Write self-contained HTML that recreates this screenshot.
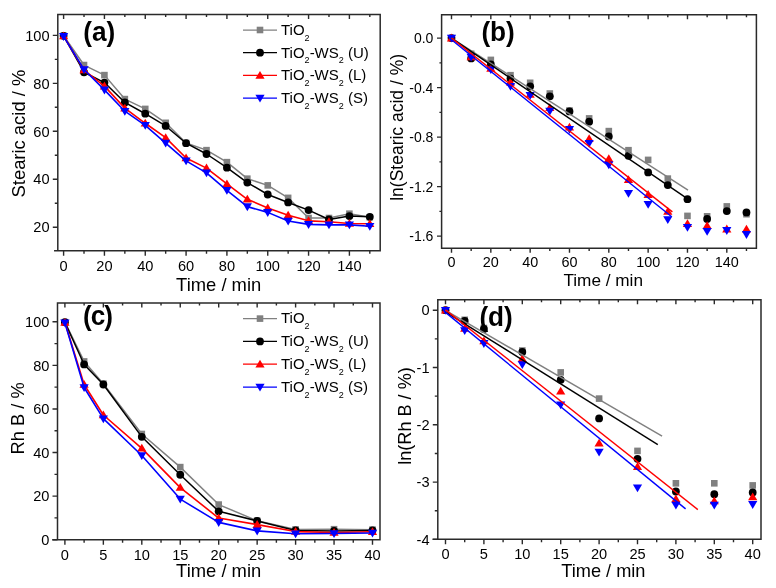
<!DOCTYPE html>
<html><head><meta charset="utf-8"><title>Figure</title>
<style>
html,body{margin:0;padding:0;background:#fff;}
body{width:776px;height:588px;overflow:hidden;font-family:"Liberation Sans", sans-serif;}
svg{display:block;will-change:transform;}
</style></head><body>
<svg width="776" height="588" viewBox="0 0 776 588" font-family='"Liberation Sans", sans-serif' fill="#000">
<rect width="776" height="588" fill="#fff"/>
<path d="M63.6,35.8L84.01,65.05L104.43,75.12L124.84,99.09L145.26,108.92L165.67,122.83L186.08,142.97L206.5,150.16L226.91,162.15L247.33,178.69L267.74,185.4L288.15,197.87L308.57,218.01L328.98,218.01L349.4,213.69L369.81,217.29" stroke="#808080" stroke-width="1.5" fill="none" stroke-linejoin="round"/>
<rect x="60.3" y="32.5" width="6.6" height="6.6" fill="#808080"/>
<rect x="80.71" y="61.75" width="6.6" height="6.6" fill="#808080"/>
<rect x="101.13" y="71.82" width="6.6" height="6.6" fill="#808080"/>
<rect x="121.54" y="95.79" width="6.6" height="6.6" fill="#808080"/>
<rect x="141.96" y="105.62" width="6.6" height="6.6" fill="#808080"/>
<rect x="162.37" y="119.53" width="6.6" height="6.6" fill="#808080"/>
<rect x="182.78" y="139.67" width="6.6" height="6.6" fill="#808080"/>
<rect x="203.2" y="146.86" width="6.6" height="6.6" fill="#808080"/>
<rect x="223.61" y="158.85" width="6.6" height="6.6" fill="#808080"/>
<rect x="244.03" y="175.39" width="6.6" height="6.6" fill="#808080"/>
<rect x="264.44" y="182.1" width="6.6" height="6.6" fill="#808080"/>
<rect x="284.85" y="194.57" width="6.6" height="6.6" fill="#808080"/>
<rect x="305.27" y="214.71" width="6.6" height="6.6" fill="#808080"/>
<rect x="325.68" y="214.71" width="6.6" height="6.6" fill="#808080"/>
<rect x="346.1" y="210.39" width="6.6" height="6.6" fill="#808080"/>
<rect x="366.51" y="213.99" width="6.6" height="6.6" fill="#808080"/>
<path d="M63.6,35.8L84.01,72.24L104.43,82.55L124.84,102.45L145.26,113.72L165.67,125.95L186.08,143.21L206.5,154L226.91,167.66L247.33,182.53L267.74,194.51L288.15,202.43L308.57,210.1L328.98,219.45L349.4,216.09L369.81,216.81" stroke="#000000" stroke-width="1.5" fill="none" stroke-linejoin="round"/>
<circle cx="63.6" cy="35.8" r="3.9" fill="#000000"/>
<circle cx="84.01" cy="72.24" r="3.9" fill="#000000"/>
<circle cx="104.43" cy="82.55" r="3.9" fill="#000000"/>
<circle cx="124.84" cy="102.45" r="3.9" fill="#000000"/>
<circle cx="145.26" cy="113.72" r="3.9" fill="#000000"/>
<circle cx="165.67" cy="125.95" r="3.9" fill="#000000"/>
<circle cx="186.08" cy="143.21" r="3.9" fill="#000000"/>
<circle cx="206.5" cy="154" r="3.9" fill="#000000"/>
<circle cx="226.91" cy="167.66" r="3.9" fill="#000000"/>
<circle cx="247.33" cy="182.53" r="3.9" fill="#000000"/>
<circle cx="267.74" cy="194.51" r="3.9" fill="#000000"/>
<circle cx="288.15" cy="202.43" r="3.9" fill="#000000"/>
<circle cx="308.57" cy="210.1" r="3.9" fill="#000000"/>
<circle cx="328.98" cy="219.45" r="3.9" fill="#000000"/>
<circle cx="349.4" cy="216.09" r="3.9" fill="#000000"/>
<circle cx="369.81" cy="216.81" r="3.9" fill="#000000"/>
<path d="M63.6,36L84.01,70.04L104.43,86.11L124.84,108.16L145.26,123.27L165.67,137.65L186.08,158.03L206.5,168.1L226.91,183.93L247.33,199.27L267.74,207.9L288.15,215.33L308.57,220.85L328.98,221.81L349.4,223.48L369.81,223.72" stroke="#ff0000" stroke-width="1.6" fill="none" stroke-linejoin="round"/>
<path d="M63.6,31.48L68.2,39.28L59,39.28Z" fill="#ff0000"/>
<path d="M84.01,65.52L88.61,73.32L79.41,73.32Z" fill="#ff0000"/>
<path d="M104.43,81.58L109.03,89.38L99.83,89.38Z" fill="#ff0000"/>
<path d="M124.84,103.64L129.44,111.44L120.24,111.44Z" fill="#ff0000"/>
<path d="M145.26,118.74L149.86,126.54L140.66,126.54Z" fill="#ff0000"/>
<path d="M165.67,133.13L170.27,140.93L161.07,140.93Z" fill="#ff0000"/>
<path d="M186.08,153.51L190.68,161.31L181.48,161.31Z" fill="#ff0000"/>
<path d="M206.5,163.58L211.1,171.38L201.9,171.38Z" fill="#ff0000"/>
<path d="M226.91,179.4L231.51,187.2L222.31,187.2Z" fill="#ff0000"/>
<path d="M247.33,194.75L251.93,202.55L242.73,202.55Z" fill="#ff0000"/>
<path d="M267.74,203.38L272.34,211.18L263.14,211.18Z" fill="#ff0000"/>
<path d="M288.15,210.81L292.75,218.61L283.55,218.61Z" fill="#ff0000"/>
<path d="M308.57,216.32L313.17,224.12L303.97,224.12Z" fill="#ff0000"/>
<path d="M328.98,217.28L333.58,225.08L324.38,225.08Z" fill="#ff0000"/>
<path d="M349.4,218.96L354,226.76L344.8,226.76Z" fill="#ff0000"/>
<path d="M369.81,219.2L374.41,227L365.21,227Z" fill="#ff0000"/>
<path d="M63.6,36.4L84.01,69.49L104.43,89.86L124.84,111.2L145.26,125.35L165.67,143.09L186.08,160.83L206.5,172.82L226.91,190.32L247.33,206.62L267.74,212.38L288.15,221.01L308.57,224.36L328.98,224.84L349.4,224.84L369.81,226.28" stroke="#0000ff" stroke-width="1.6" fill="none" stroke-linejoin="round"/>
<path d="M59,33.12L68.2,33.12L63.6,40.92Z" fill="#0000ff"/>
<path d="M79.41,66.21L88.61,66.21L84.01,74.01Z" fill="#0000ff"/>
<path d="M99.83,86.59L109.03,86.59L104.43,94.39Z" fill="#0000ff"/>
<path d="M120.24,107.93L129.44,107.93L124.84,115.73Z" fill="#0000ff"/>
<path d="M140.66,122.07L149.86,122.07L145.26,129.87Z" fill="#0000ff"/>
<path d="M161.07,139.81L170.27,139.81L165.67,147.61Z" fill="#0000ff"/>
<path d="M181.48,157.55L190.68,157.55L186.08,165.35Z" fill="#0000ff"/>
<path d="M201.9,169.54L211.1,169.54L206.5,177.34Z" fill="#0000ff"/>
<path d="M222.31,187.04L231.51,187.04L226.91,194.84Z" fill="#0000ff"/>
<path d="M242.73,203.35L251.93,203.35L247.33,211.15Z" fill="#0000ff"/>
<path d="M263.14,209.1L272.34,209.1L267.74,216.9Z" fill="#0000ff"/>
<path d="M283.55,217.73L292.75,217.73L288.15,225.53Z" fill="#0000ff"/>
<path d="M303.97,221.09L313.17,221.09L308.57,228.89Z" fill="#0000ff"/>
<path d="M324.38,221.57L333.58,221.57L328.98,229.37Z" fill="#0000ff"/>
<path d="M344.8,221.57L354,221.57L349.4,229.37Z" fill="#0000ff"/>
<path d="M365.21,223.01L374.41,223.01L369.81,230.81Z" fill="#0000ff"/>
<path d="M57.8,250.8V14.4H380.2V250.8H54.8" fill="none" stroke="#2a2a2a" stroke-width="1.5" stroke-linejoin="miter" stroke-linecap="square"/>
<path d="M63.6,250.8v5M63.6,14.4v4.5M104.43,250.8v5M104.43,14.4v4.5M145.26,250.8v5M145.26,14.4v4.5M186.08,250.8v5M186.08,14.4v4.5M226.91,250.8v5M226.91,14.4v4.5M267.74,250.8v5M267.74,14.4v4.5M308.57,250.8v5M308.57,14.4v4.5M349.4,250.8v5M349.4,14.4v4.5M84.01,250.8v3M84.01,14.4v2.5M124.84,250.8v3M124.84,14.4v2.5M165.67,250.8v3M165.67,14.4v2.5M206.5,250.8v3M206.5,14.4v2.5M247.33,250.8v3M247.33,14.4v2.5M288.15,250.8v3M288.15,14.4v2.5M328.98,250.8v3M328.98,14.4v2.5M369.81,250.8v3M369.81,14.4v2.5" stroke="#2a2a2a" stroke-width="1.4" fill="none"/>
<path d="M57.8,227.2h-5M57.8,179.25h-5M57.8,131.3h-5M57.8,83.35h-5M57.8,35.4h-5M57.8,203.22h-3M57.8,155.28h-3M57.8,107.32h-3M57.8,59.38h-3" stroke="#2a2a2a" stroke-width="1.4" fill="none"/>
<text x="63.6" y="270.7" font-size="14.6" text-anchor="middle" font-weight="normal" >0</text>
<text x="104.43" y="270.7" font-size="14.6" text-anchor="middle" font-weight="normal" >20</text>
<text x="145.26" y="270.7" font-size="14.6" text-anchor="middle" font-weight="normal" >40</text>
<text x="186.08" y="270.7" font-size="14.6" text-anchor="middle" font-weight="normal" >60</text>
<text x="226.91" y="270.7" font-size="14.6" text-anchor="middle" font-weight="normal" >80</text>
<text x="267.74" y="270.7" font-size="14.6" text-anchor="middle" font-weight="normal" >100</text>
<text x="308.57" y="270.7" font-size="14.6" text-anchor="middle" font-weight="normal" >120</text>
<text x="349.4" y="270.7" font-size="14.6" text-anchor="middle" font-weight="normal" >140</text>
<text x="49.6" y="232.4" font-size="14.6" text-anchor="end" font-weight="normal" >20</text>
<text x="49.6" y="184.45" font-size="14.6" text-anchor="end" font-weight="normal" >40</text>
<text x="49.6" y="136.5" font-size="14.6" text-anchor="end" font-weight="normal" >60</text>
<text x="49.6" y="88.55" font-size="14.6" text-anchor="end" font-weight="normal" >80</text>
<text x="49.6" y="40.6" font-size="14.6" text-anchor="end" font-weight="normal" >100</text>
<text x="218.7" y="290.6" font-size="18.4" text-anchor="middle" font-weight="normal" >Time / min</text>
<text transform="translate(24.6,133.6) rotate(-90)" font-size="18.4" text-anchor="middle">Stearic acid / %</text>
<text transform="translate(83.2,41) scale(0.97,1)" font-size="27" font-weight="bold" letter-spacing="0">(a)</text>
<path d="M243,30H277" stroke="#808080" stroke-width="1.25"/>
<rect x="256.7" y="26.7" width="6.6" height="6.6" fill="#808080"/>
<text x="281" y="34.8" font-size="15">TiO<tspan font-size="9" dy="5.7">2</tspan></text>
<path d="M243,52.7H277" stroke="#000000" stroke-width="1.25"/>
<circle cx="260" cy="52.7" r="3.9" fill="#000000"/>
<text x="281" y="57.5" font-size="15">TiO<tspan font-size="9" dy="5.7">2</tspan><tspan dy="-5.7">-WS</tspan><tspan font-size="9" dy="5.7">2</tspan><tspan dy="-5.7"> (U)</tspan></text>
<path d="M243,75.4H277" stroke="#ff0000" stroke-width="1.25"/>
<path d="M260,70.88L264.6,78.68L255.4,78.68Z" fill="#ff0000"/>
<text x="281" y="80.2" font-size="15">TiO<tspan font-size="9" dy="5.7">2</tspan><tspan dy="-5.7">-WS</tspan><tspan font-size="9" dy="5.7">2</tspan><tspan dy="-5.7"> (L)</tspan></text>
<path d="M243,98.1H277" stroke="#0000ff" stroke-width="1.25"/>
<path d="M255.4,94.82L264.6,94.82L260,102.62Z" fill="#0000ff"/>
<text x="281" y="102.9" font-size="15">TiO<tspan font-size="9" dy="5.7">2</tspan><tspan dy="-5.7">-WS</tspan><tspan font-size="9" dy="5.7">2</tspan><tspan dy="-5.7"> (S)</tspan></text>
<rect x="448.2" y="34.8" width="6.6" height="6.6" fill="#808080"/>
<rect x="467.86" y="50.5" width="6.6" height="6.6" fill="#808080"/>
<rect x="487.53" y="56.6" width="6.6" height="6.6" fill="#808080"/>
<rect x="507.19" y="71.9" width="6.6" height="6.6" fill="#808080"/>
<rect x="526.86" y="79.5" width="6.6" height="6.6" fill="#808080"/>
<rect x="546.52" y="90.2" width="6.6" height="6.6" fill="#808080"/>
<rect x="566.18" y="107.2" width="6.6" height="6.6" fill="#808080"/>
<rect x="585.85" y="115.1" width="6.6" height="6.6" fill="#808080"/>
<rect x="605.51" y="127.8" width="6.6" height="6.6" fill="#808080"/>
<rect x="625.18" y="146.9" width="6.6" height="6.6" fill="#808080"/>
<rect x="644.84" y="156.6" width="6.6" height="6.6" fill="#808080"/>
<rect x="664.5" y="175.3" width="6.6" height="6.6" fill="#808080"/>
<rect x="684.17" y="212.6" width="6.6" height="6.6" fill="#808080"/>
<rect x="703.83" y="213" width="6.6" height="6.6" fill="#808080"/>
<rect x="723.5" y="203.1" width="6.6" height="6.6" fill="#808080"/>
<rect x="743.16" y="210.9" width="6.6" height="6.6" fill="#808080"/>
<circle cx="451.5" cy="38.1" r="3.9" fill="#000000"/>
<circle cx="471.16" cy="58.4" r="3.9" fill="#000000"/>
<circle cx="490.83" cy="64.5" r="3.9" fill="#000000"/>
<circle cx="510.49" cy="78.6" r="3.9" fill="#000000"/>
<circle cx="530.16" cy="86.3" r="3.9" fill="#000000"/>
<circle cx="549.82" cy="96.3" r="3.9" fill="#000000"/>
<circle cx="569.48" cy="111.4" r="3.9" fill="#000000"/>
<circle cx="589.15" cy="121.7" r="3.9" fill="#000000"/>
<circle cx="608.81" cy="136.5" r="3.9" fill="#000000"/>
<circle cx="628.48" cy="155.8" r="3.9" fill="#000000"/>
<circle cx="648.14" cy="172.4" r="3.9" fill="#000000"/>
<circle cx="667.8" cy="185.1" r="3.9" fill="#000000"/>
<circle cx="687.47" cy="199.2" r="3.9" fill="#000000"/>
<circle cx="707.13" cy="219" r="3.9" fill="#000000"/>
<circle cx="726.8" cy="211.1" r="3.9" fill="#000000"/>
<circle cx="746.46" cy="212.4" r="3.9" fill="#000000"/>
<path d="M451.5,33.58L456.1,41.38L446.9,41.38Z" fill="#ff0000"/>
<path d="M471.16,52.48L475.76,60.28L466.56,60.28Z" fill="#ff0000"/>
<path d="M490.83,63.98L495.43,71.78L486.23,71.78Z" fill="#ff0000"/>
<path d="M510.49,77.58L515.09,85.38L505.89,85.38Z" fill="#ff0000"/>
<path d="M530.16,89.98L534.76,97.78L525.56,97.78Z" fill="#ff0000"/>
<path d="M549.82,103.18L554.42,110.98L545.22,110.98Z" fill="#ff0000"/>
<path d="M569.48,122.68L574.08,130.48L564.88,130.48Z" fill="#ff0000"/>
<path d="M589.15,134.18L593.75,141.98L584.55,141.98Z" fill="#ff0000"/>
<path d="M608.81,154.18L613.41,161.98L604.21,161.98Z" fill="#ff0000"/>
<path d="M628.48,175.18L633.08,182.98L623.88,182.98Z" fill="#ff0000"/>
<path d="M648.14,190.08L652.74,197.88L643.54,197.88Z" fill="#ff0000"/>
<path d="M667.8,206.98L672.4,214.78L663.2,214.78Z" fill="#ff0000"/>
<path d="M687.47,219.28L692.07,227.08L682.87,227.08Z" fill="#ff0000"/>
<path d="M707.13,221.18L711.73,228.98L702.53,228.98Z" fill="#ff0000"/>
<path d="M726.8,224.58L731.4,232.38L722.2,232.38Z" fill="#ff0000"/>
<path d="M746.46,224.68L751.06,232.48L741.86,232.48Z" fill="#ff0000"/>
<path d="M446.9,34.82L456.1,34.82L451.5,42.62Z" fill="#0000ff"/>
<path d="M466.56,53.72L475.76,53.72L471.16,61.52Z" fill="#0000ff"/>
<path d="M486.23,66.32L495.43,66.32L490.83,74.12Z" fill="#0000ff"/>
<path d="M505.89,82.92L515.09,82.92L510.49,90.72Z" fill="#0000ff"/>
<path d="M525.56,91.92L534.76,91.92L530.16,99.72Z" fill="#0000ff"/>
<path d="M545.22,107.82L554.42,107.82L549.82,115.62Z" fill="#0000ff"/>
<path d="M564.88,126.02L574.08,126.02L569.48,133.82Z" fill="#0000ff"/>
<path d="M584.55,140.02L593.75,140.02L589.15,147.82Z" fill="#0000ff"/>
<path d="M604.21,161.42L613.41,161.42L608.81,169.22Z" fill="#0000ff"/>
<path d="M623.88,190.02L633.08,190.02L628.48,197.82Z" fill="#0000ff"/>
<path d="M643.54,200.92L652.74,200.92L648.14,208.72Z" fill="#0000ff"/>
<path d="M663.2,216.22L672.4,216.22L667.8,224.02Z" fill="#0000ff"/>
<path d="M682.87,223.92L692.07,223.92L687.47,231.72Z" fill="#0000ff"/>
<path d="M702.53,228.02L711.73,228.02L707.13,235.82Z" fill="#0000ff"/>
<path d="M722.2,227.12L731.4,227.12L726.8,234.92Z" fill="#0000ff"/>
<path d="M741.86,231.12L751.06,231.12L746.46,238.92Z" fill="#0000ff"/>
<path d="M451.5,38.1L688,190.1" stroke="#808080" stroke-width="1.4" fill="none"/>
<path d="M451.5,38.1L687.3,198.7" stroke="#000000" stroke-width="1.4" fill="none"/>
<path d="M451.5,38.1L672.4,211.9" stroke="#ff0000" stroke-width="1.4" fill="none"/>
<path d="M451.5,39.8L671.7,216.7" stroke="#0000ff" stroke-width="1.4" fill="none"/>
<path d="M441.6,248.2V14.7H756.4V248.2H441.6" fill="none" stroke="#2a2a2a" stroke-width="1.5" stroke-linejoin="miter" stroke-linecap="square"/>
<path d="M451.5,248.2v4.6M451.5,14.7v4.5M490.83,248.2v4.6M490.83,14.7v4.5M530.16,248.2v4.6M530.16,14.7v4.5M569.48,248.2v4.6M569.48,14.7v4.5M608.81,248.2v4.6M608.81,14.7v4.5M648.14,248.2v4.6M648.14,14.7v4.5M687.47,248.2v4.6M687.47,14.7v4.5M726.8,248.2v4.6M726.8,14.7v4.5M471.16,248.2v2.7M471.16,14.7v2.5M510.49,248.2v2.7M510.49,14.7v2.5M549.82,248.2v2.7M549.82,14.7v2.5M589.15,248.2v2.7M589.15,14.7v2.5M628.48,248.2v2.7M628.48,14.7v2.5M667.8,248.2v2.7M667.8,14.7v2.5M707.13,248.2v2.7M707.13,14.7v2.5M746.46,248.2v2.7M746.46,14.7v2.5" stroke="#2a2a2a" stroke-width="1.4" fill="none"/>
<path d="M441.6,38.1h-4.6M441.6,87.6h-4.6M441.6,137.1h-4.6M441.6,186.6h-4.6M441.6,236.1h-4.6M441.6,62.85h-2.2M441.6,112.35h-2.2M441.6,161.85h-2.2M441.6,211.35h-2.2" stroke="#2a2a2a" stroke-width="1.4" fill="none"/>
<text x="451.5" y="267.4" font-size="14.4" text-anchor="middle" font-weight="normal" >0</text>
<text x="490.83" y="267.4" font-size="14.4" text-anchor="middle" font-weight="normal" >20</text>
<text x="530.16" y="267.4" font-size="14.4" text-anchor="middle" font-weight="normal" >40</text>
<text x="569.48" y="267.4" font-size="14.4" text-anchor="middle" font-weight="normal" >60</text>
<text x="608.81" y="267.4" font-size="14.4" text-anchor="middle" font-weight="normal" >80</text>
<text x="648.14" y="267.4" font-size="14.4" text-anchor="middle" font-weight="normal" >100</text>
<text x="687.47" y="267.4" font-size="14.4" text-anchor="middle" font-weight="normal" >120</text>
<text x="726.8" y="267.4" font-size="14.4" text-anchor="middle" font-weight="normal" >140</text>
<text x="433.4" y="43.1" font-size="14.0" text-anchor="end" font-weight="normal" >0.0</text>
<text x="433.4" y="92.6" font-size="14.0" text-anchor="end" font-weight="normal" >-0.4</text>
<text x="433.4" y="142.1" font-size="14.0" text-anchor="end" font-weight="normal" >-0.8</text>
<text x="433.4" y="191.6" font-size="14.0" text-anchor="end" font-weight="normal" >-1.2</text>
<text x="433.4" y="241.1" font-size="14.0" text-anchor="end" font-weight="normal" >-1.6</text>
<text x="603.2" y="286" font-size="17.2" text-anchor="middle" font-weight="normal" >Time / min</text>
<text transform="translate(403.0,127.4) rotate(-90)" font-size="17.5" text-anchor="middle">ln(Stearic acid / %)</text>
<text transform="translate(481.4,41) scale(0.97,1)" font-size="27" font-weight="bold" letter-spacing="0">(b)</text>
<path d="M64.9,322.2L84.12,361.42L103.35,383.65L141.8,433.98L180.25,467.1L218.7,504.58L257.15,520.71L295.6,529.42L334.05,529.21L372.5,529.64" stroke="#808080" stroke-width="1.5" fill="none" stroke-linejoin="round"/>
<rect x="61.6" y="318.9" width="6.6" height="6.6" fill="#808080"/>
<rect x="80.83" y="358.12" width="6.6" height="6.6" fill="#808080"/>
<rect x="100.05" y="380.35" width="6.6" height="6.6" fill="#808080"/>
<rect x="138.5" y="430.68" width="6.6" height="6.6" fill="#808080"/>
<rect x="176.95" y="463.8" width="6.6" height="6.6" fill="#808080"/>
<rect x="215.4" y="501.28" width="6.6" height="6.6" fill="#808080"/>
<rect x="253.85" y="517.41" width="6.6" height="6.6" fill="#808080"/>
<rect x="292.3" y="526.12" width="6.6" height="6.6" fill="#808080"/>
<rect x="330.75" y="525.91" width="6.6" height="6.6" fill="#808080"/>
<rect x="369.2" y="526.34" width="6.6" height="6.6" fill="#808080"/>
<path d="M64.9,322.2L84.12,364.47L103.35,384.52L141.8,436.82L180.25,474.73L218.7,511.34L257.15,520.92L295.6,530.51L334.05,530.95L372.5,530.51" stroke="#000000" stroke-width="1.5" fill="none" stroke-linejoin="round"/>
<circle cx="64.9" cy="322.2" r="3.9" fill="#000000"/>
<circle cx="84.12" cy="364.47" r="3.9" fill="#000000"/>
<circle cx="103.35" cy="384.52" r="3.9" fill="#000000"/>
<circle cx="141.8" cy="436.82" r="3.9" fill="#000000"/>
<circle cx="180.25" cy="474.73" r="3.9" fill="#000000"/>
<circle cx="218.7" cy="511.34" r="3.9" fill="#000000"/>
<circle cx="257.15" cy="520.92" r="3.9" fill="#000000"/>
<circle cx="295.6" cy="530.51" r="3.9" fill="#000000"/>
<circle cx="334.05" cy="530.95" r="3.9" fill="#000000"/>
<circle cx="372.5" cy="530.51" r="3.9" fill="#000000"/>
<path d="M64.9,322.4L84.12,384.5L103.35,415.01L141.8,448.35L180.25,487.57L218.7,518.07L257.15,524.61L295.6,531.58L334.05,532.46L372.5,531.8" stroke="#ff0000" stroke-width="1.6" fill="none" stroke-linejoin="round"/>
<path d="M64.9,317.88L69.5,325.68L60.3,325.68Z" fill="#ff0000"/>
<path d="M84.12,379.98L88.72,387.78L79.53,387.78Z" fill="#ff0000"/>
<path d="M103.35,410.48L107.95,418.28L98.75,418.28Z" fill="#ff0000"/>
<path d="M141.8,443.82L146.4,451.62L137.2,451.62Z" fill="#ff0000"/>
<path d="M180.25,483.04L184.85,490.84L175.65,490.84Z" fill="#ff0000"/>
<path d="M218.7,513.55L223.3,521.35L214.1,521.35Z" fill="#ff0000"/>
<path d="M257.15,520.09L261.75,527.89L252.55,527.89Z" fill="#ff0000"/>
<path d="M295.6,527.06L300.2,534.86L291,534.86Z" fill="#ff0000"/>
<path d="M334.05,527.93L338.65,535.73L329.45,535.73Z" fill="#ff0000"/>
<path d="M372.5,527.28L377.1,535.08L367.9,535.08Z" fill="#ff0000"/>
<path d="M64.9,322.8L84.12,387.52L103.35,418.68L141.8,455.5L180.25,499.08L218.7,522.4L257.15,530.89L295.6,533.73L334.05,533.51L372.5,533.07" stroke="#0000ff" stroke-width="1.6" fill="none" stroke-linejoin="round"/>
<path d="M60.3,319.52L69.5,319.52L64.9,327.32Z" fill="#0000ff"/>
<path d="M79.53,384.24L88.72,384.24L84.12,392.04Z" fill="#0000ff"/>
<path d="M98.75,415.4L107.95,415.4L103.35,423.2Z" fill="#0000ff"/>
<path d="M137.2,452.23L146.4,452.23L141.8,460.03Z" fill="#0000ff"/>
<path d="M175.65,495.81L184.85,495.81L180.25,503.61Z" fill="#0000ff"/>
<path d="M214.1,519.12L223.3,519.12L218.7,526.92Z" fill="#0000ff"/>
<path d="M252.55,527.62L261.75,527.62L257.15,535.42Z" fill="#0000ff"/>
<path d="M291,530.45L300.2,530.45L295.6,538.25Z" fill="#0000ff"/>
<path d="M329.45,530.23L338.65,530.23L334.05,538.03Z" fill="#0000ff"/>
<path d="M367.9,529.8L377.1,529.8L372.5,537.6Z" fill="#0000ff"/>
<path d="M57.5,539.7V303.1H380V539.7H53" fill="none" stroke="#2a2a2a" stroke-width="1.5" stroke-linejoin="miter" stroke-linecap="square"/>
<path d="M64.9,539.7v5M64.9,303.1v4.5M103.35,539.7v5M103.35,303.1v4.5M141.8,539.7v5M141.8,303.1v4.5M180.25,539.7v5M180.25,303.1v4.5M218.7,539.7v5M218.7,303.1v4.5M257.15,539.7v5M257.15,303.1v4.5M295.6,539.7v5M295.6,303.1v4.5M334.05,539.7v5M334.05,303.1v4.5M372.5,539.7v5M372.5,303.1v4.5M84.12,539.7v3M84.12,303.1v2.5M122.58,539.7v3M122.58,303.1v2.5M161.03,539.7v3M161.03,303.1v2.5M199.48,539.7v3M199.48,303.1v2.5M237.93,539.7v3M237.93,303.1v2.5M276.38,539.7v3M276.38,303.1v2.5M314.83,539.7v3M314.83,303.1v2.5M353.27,539.7v3M353.27,303.1v2.5" stroke="#2a2a2a" stroke-width="1.4" fill="none"/>
<path d="M57.5,539.7h-5M57.5,496.12h-5M57.5,452.54h-5M57.5,408.96h-5M57.5,365.38h-5M57.5,321.8h-5M57.5,517.91h-3M57.5,474.33h-3M57.5,430.75h-3M57.5,387.17h-3M57.5,343.59h-3" stroke="#2a2a2a" stroke-width="1.4" fill="none"/>
<text x="64.9" y="559.7" font-size="14.6" text-anchor="middle" font-weight="normal" >0</text>
<text x="103.35" y="559.7" font-size="14.6" text-anchor="middle" font-weight="normal" >5</text>
<text x="141.8" y="559.7" font-size="14.6" text-anchor="middle" font-weight="normal" >10</text>
<text x="180.25" y="559.7" font-size="14.6" text-anchor="middle" font-weight="normal" >15</text>
<text x="218.7" y="559.7" font-size="14.6" text-anchor="middle" font-weight="normal" >20</text>
<text x="257.15" y="559.7" font-size="14.6" text-anchor="middle" font-weight="normal" >25</text>
<text x="295.6" y="559.7" font-size="14.6" text-anchor="middle" font-weight="normal" >30</text>
<text x="334.05" y="559.7" font-size="14.6" text-anchor="middle" font-weight="normal" >35</text>
<text x="372.5" y="559.7" font-size="14.6" text-anchor="middle" font-weight="normal" >40</text>
<text x="49.4" y="544.9" font-size="14.6" text-anchor="end" font-weight="normal" >0</text>
<text x="49.4" y="501.32" font-size="14.6" text-anchor="end" font-weight="normal" >20</text>
<text x="49.4" y="457.74" font-size="14.6" text-anchor="end" font-weight="normal" >40</text>
<text x="49.4" y="414.16" font-size="14.6" text-anchor="end" font-weight="normal" >60</text>
<text x="49.4" y="370.58" font-size="14.6" text-anchor="end" font-weight="normal" >80</text>
<text x="49.4" y="327" font-size="14.6" text-anchor="end" font-weight="normal" >100</text>
<text x="218.7" y="576.5" font-size="18.4" text-anchor="middle" font-weight="normal" >Time / min</text>
<text transform="translate(24.0,418.4) rotate(-90)" font-size="18.3" text-anchor="middle">Rh B / %</text>
<text transform="translate(83,325.4) scale(0.97,1)" font-size="27" font-weight="bold" letter-spacing="-1.0">(c)</text>
<path d="M243,318.6H277" stroke="#808080" stroke-width="1.25"/>
<rect x="256.7" y="315.3" width="6.6" height="6.6" fill="#808080"/>
<text x="281" y="323.4" font-size="15">TiO<tspan font-size="9" dy="5.7">2</tspan></text>
<path d="M243,341.4H277" stroke="#000000" stroke-width="1.25"/>
<circle cx="260" cy="341.4" r="3.9" fill="#000000"/>
<text x="281" y="346.2" font-size="15">TiO<tspan font-size="9" dy="5.7">2</tspan><tspan dy="-5.7">-WS</tspan><tspan font-size="9" dy="5.7">2</tspan><tspan dy="-5.7"> (U)</tspan></text>
<path d="M243,364.2H277" stroke="#ff0000" stroke-width="1.25"/>
<path d="M260,359.68L264.6,367.48L255.4,367.48Z" fill="#ff0000"/>
<text x="281" y="369" font-size="15">TiO<tspan font-size="9" dy="5.7">2</tspan><tspan dy="-5.7">-WS</tspan><tspan font-size="9" dy="5.7">2</tspan><tspan dy="-5.7"> (L)</tspan></text>
<path d="M243,387H277" stroke="#0000ff" stroke-width="1.25"/>
<path d="M255.4,383.72L264.6,383.72L260,391.52Z" fill="#0000ff"/>
<text x="281" y="391.8" font-size="15">TiO<tspan font-size="9" dy="5.7">2</tspan><tspan dy="-5.7">-WS</tspan><tspan font-size="9" dy="5.7">2</tspan><tspan dy="-5.7"> (S)</tspan></text>
<rect x="442.2" y="306.9" width="6.6" height="6.6" fill="#808080"/>
<rect x="461.4" y="316.5" width="6.6" height="6.6" fill="#808080"/>
<rect x="480.6" y="324.7" width="6.6" height="6.6" fill="#808080"/>
<rect x="519" y="347.2" width="6.6" height="6.6" fill="#808080"/>
<rect x="557.4" y="369.1" width="6.6" height="6.6" fill="#808080"/>
<rect x="595.8" y="395.3" width="6.6" height="6.6" fill="#808080"/>
<rect x="634.2" y="447.6" width="6.6" height="6.6" fill="#808080"/>
<rect x="672.6" y="480" width="6.6" height="6.6" fill="#808080"/>
<rect x="711" y="480" width="6.6" height="6.6" fill="#808080"/>
<rect x="749.4" y="482.1" width="6.6" height="6.6" fill="#808080"/>
<circle cx="445.5" cy="310.2" r="3.9" fill="#000000"/>
<circle cx="464.7" cy="321" r="3.9" fill="#000000"/>
<circle cx="483.9" cy="329" r="3.9" fill="#000000"/>
<circle cx="522.3" cy="351.9" r="3.9" fill="#000000"/>
<circle cx="560.7" cy="379.8" r="3.9" fill="#000000"/>
<circle cx="599.1" cy="418.4" r="3.9" fill="#000000"/>
<circle cx="637.5" cy="458.8" r="3.9" fill="#000000"/>
<circle cx="675.9" cy="491.5" r="3.9" fill="#000000"/>
<circle cx="714.3" cy="494.2" r="3.9" fill="#000000"/>
<circle cx="752.7" cy="492.4" r="3.9" fill="#000000"/>
<path d="M445.5,305.68L450.1,313.48L440.9,313.48Z" fill="#ff0000"/>
<path d="M464.7,323.98L469.3,331.78L460.1,331.78Z" fill="#ff0000"/>
<path d="M483.9,336.48L488.5,344.28L479.3,344.28Z" fill="#ff0000"/>
<path d="M522.3,354.18L526.9,361.98L517.7,361.98Z" fill="#ff0000"/>
<path d="M560.7,386.78L565.3,394.58L556.1,394.58Z" fill="#ff0000"/>
<path d="M599.1,438.78L603.7,446.58L594.5,446.58Z" fill="#ff0000"/>
<path d="M637.5,462.18L642.1,469.98L632.9,469.98Z" fill="#ff0000"/>
<path d="M675.9,494.48L680.5,502.28L671.3,502.28Z" fill="#ff0000"/>
<path d="M714.3,496.48L718.9,504.28L709.7,504.28Z" fill="#ff0000"/>
<path d="M752.7,492.38L757.3,500.18L748.1,500.18Z" fill="#ff0000"/>
<path d="M440.9,306.92L450.1,306.92L445.5,314.72Z" fill="#0000ff"/>
<path d="M460.1,327.32L469.3,327.32L464.7,335.12Z" fill="#0000ff"/>
<path d="M479.3,340.12L488.5,340.12L483.9,347.92Z" fill="#0000ff"/>
<path d="M517.7,361.32L526.9,361.32L522.3,369.12Z" fill="#0000ff"/>
<path d="M556.1,401.52L565.3,401.52L560.7,409.32Z" fill="#0000ff"/>
<path d="M594.5,448.82L603.7,448.82L599.1,456.62Z" fill="#0000ff"/>
<path d="M632.9,484.52L642.1,484.52L637.5,492.32Z" fill="#0000ff"/>
<path d="M671.3,501.82L680.5,501.82L675.9,509.62Z" fill="#0000ff"/>
<path d="M709.7,501.82L718.9,501.82L714.3,509.62Z" fill="#0000ff"/>
<path d="M748.1,501.12L757.3,501.12L752.7,508.92Z" fill="#0000ff"/>
<path d="M445.5,310.4L662.1,436.1" stroke="#808080" stroke-width="1.4" fill="none"/>
<path d="M445.5,311.8L657.8,444.6" stroke="#000000" stroke-width="1.4" fill="none"/>
<path d="M445.5,309.9L697.8,509.6" stroke="#ff0000" stroke-width="1.4" fill="none"/>
<path d="M445.5,312.4L685.6,508.9" stroke="#0000ff" stroke-width="1.4" fill="none"/>
<path d="M437.8,539.3V299.8H761V539.3H433.3" fill="none" stroke="#2a2a2a" stroke-width="1.5" stroke-linejoin="miter" stroke-linecap="square"/>
<path d="M445.5,539.3v5M445.5,299.8v4.5M483.9,539.3v5M483.9,299.8v4.5M522.3,539.3v5M522.3,299.8v4.5M560.7,539.3v5M560.7,299.8v4.5M599.1,539.3v5M599.1,299.8v4.5M637.5,539.3v5M637.5,299.8v4.5M675.9,539.3v5M675.9,299.8v4.5M714.3,539.3v5M714.3,299.8v4.5M752.7,539.3v5M752.7,299.8v4.5M464.7,539.3v3M464.7,299.8v2.5M503.1,539.3v3M503.1,299.8v2.5M541.5,539.3v3M541.5,299.8v2.5M579.9,539.3v3M579.9,299.8v2.5M618.3,539.3v3M618.3,299.8v2.5M656.7,539.3v3M656.7,299.8v2.5M695.1,539.3v3M695.1,299.8v2.5M733.5,539.3v3M733.5,299.8v2.5" stroke="#2a2a2a" stroke-width="1.4" fill="none"/>
<path d="M437.8,310.2h-5M437.8,367.5h-5M437.8,424.8h-5M437.8,482.1h-5M437.8,539.4h-5M437.8,338.85h-3M437.8,396.15h-3M437.8,453.45h-3M437.8,510.75h-3" stroke="#2a2a2a" stroke-width="1.4" fill="none"/>
<text x="445.5" y="558.8" font-size="14.6" text-anchor="middle" font-weight="normal" >0</text>
<text x="483.9" y="558.8" font-size="14.6" text-anchor="middle" font-weight="normal" >5</text>
<text x="522.3" y="558.8" font-size="14.6" text-anchor="middle" font-weight="normal" >10</text>
<text x="560.7" y="558.8" font-size="14.6" text-anchor="middle" font-weight="normal" >15</text>
<text x="599.1" y="558.8" font-size="14.6" text-anchor="middle" font-weight="normal" >20</text>
<text x="637.5" y="558.8" font-size="14.6" text-anchor="middle" font-weight="normal" >25</text>
<text x="675.9" y="558.8" font-size="14.6" text-anchor="middle" font-weight="normal" >30</text>
<text x="714.3" y="558.8" font-size="14.6" text-anchor="middle" font-weight="normal" >35</text>
<text x="752.7" y="558.8" font-size="14.6" text-anchor="middle" font-weight="normal" >40</text>
<text x="429.6" y="315.3" font-size="14.6" text-anchor="end" font-weight="normal" >0</text>
<text x="429.6" y="372.6" font-size="14.6" text-anchor="end" font-weight="normal" >-1</text>
<text x="429.6" y="429.9" font-size="14.6" text-anchor="end" font-weight="normal" >-2</text>
<text x="429.6" y="487.2" font-size="14.6" text-anchor="end" font-weight="normal" >-3</text>
<text x="429.6" y="544.5" font-size="14.6" text-anchor="end" font-weight="normal" >-4</text>
<text x="603.4" y="577.4" font-size="18.2" text-anchor="middle" font-weight="normal" >Time / min</text>
<text transform="translate(410.8,416.0) rotate(-90)" font-size="18.1" text-anchor="middle">ln(Rh B / %)</text>
<text transform="translate(479.4,325.6) scale(0.97,1)" font-size="27" font-weight="bold" letter-spacing="0">(d)</text>
</svg>
</body></html>
